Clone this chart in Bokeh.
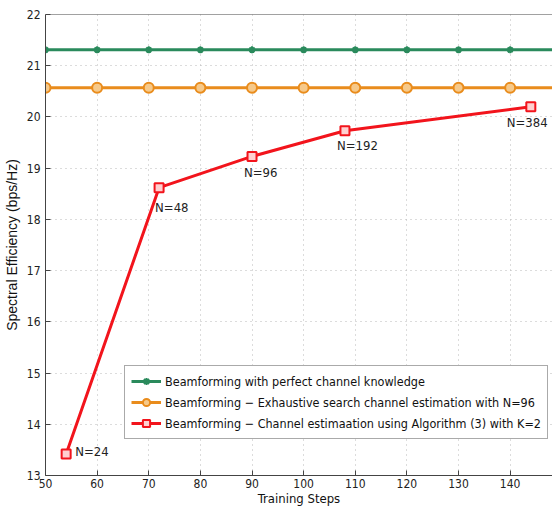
from bokeh.plotting import figure
from bokeh.models import Legend, LegendItem, Range1d, FixedTicker, ColumnDataSource, Span
from bokeh.embed import file_html
from bokeh.resources import INLINE
from bokeh.core.properties import value

# ---- data ----
perfect_x = [50, 60, 70, 80, 90, 100, 110, 120, 130, 140, 150]
perfect_y = [21.31] * 11
exhaustive_x = [50, 60, 70, 80, 90, 100, 110, 120, 130, 140, 150]
exhaustive_y = [20.57] * 11
algo_x = [54, 72, 90, 108, 144]
algo_y = [13.42, 18.62, 19.23, 19.73, 20.2]
algo_labels = ["N=24", "N=48", "N=96", "N=192", "N=384"]
x_ticks = [50, 60, 70, 80, 90, 100, 110, 120, 130, 140, 150]
y_ticks = [13, 14, 15, 16, 17, 18, 19, 20, 21, 22]
x_title = "Training Steps"
y_title = "Spectral Efficiency (bps/Hz)"
legend_labels = [
    "Beamforming with perfect channel knowledge",
    "Beamforming \u2212 Exhaustive search channel estimation with N=96",
    "Beamforming \u2212 Channel estimaation using Algorithm (3) with K=2",
]

FONT = "DejaVu Sans Condensed"
GREEN = "#2a8a5c"
ORANGE = "#e98c1c"
RED = "#f2141c"
AXC = "#444444"

p = figure(width=552, height=509, output_backend="svg", toolbar_location=None,
           x_range=Range1d(50, 148.2), y_range=Range1d(13, 22),
           min_border_left=36, min_border_right=0, min_border_top=14, min_border_bottom=34)
p.background_fill_color = "white"
p.border_fill_color = "white"
p.outline_line_color = None

for ax in (p.xaxis[0], p.yaxis[0]):
    ax.major_label_text_font = FONT
    ax.major_label_text_font_size = "12px"
    ax.major_label_text_color = "#222222"
    ax.axis_line_color = AXC
    ax.major_tick_line_color = AXC
    ax.major_tick_in = 5
    ax.major_tick_out = 0
    ax.minor_tick_line_color = None
    ax.axis_label_text_font_style = "normal"
    ax.axis_label_text_color = "#111111"

p.xaxis.ticker = FixedTicker(ticks=x_ticks)
p.yaxis.ticker = FixedTicker(ticks=y_ticks)
p.xaxis.major_label_standoff = 3
p.yaxis.major_label_standoff = 5
p.xaxis.axis_label = x_title
p.xaxis.axis_label_standoff = 0
p.xaxis.axis_label_text_font = FONT
p.xaxis.axis_label_text_font_size = "13px"
p.yaxis.axis_label = y_title
p.yaxis.axis_label_standoff = 4
p.yaxis.axis_label_text_font = "Liberation Sans"
p.yaxis.axis_label_text_font_size = "14px"

# top border line of the box (right side lies outside the picture)
p.add_layout(Span(location=22, dimension="width", line_color=AXC, line_width=1))

p.xgrid.ticker = FixedTicker(ticks=x_ticks)
p.ygrid.ticker = FixedTicker(ticks=y_ticks)
for g in (p.xgrid[0], p.ygrid[0]):
    g.grid_line_color = "#b8b8b8"
    g.grid_line_dash = "1 4"
    g.grid_line_width = 1

r1l = p.line(perfect_x, perfect_y, line_color=GREEN, line_width=3)
r1m = p.scatter(perfect_x, perfect_y, marker="asterisk", size=7, line_color=GREEN, line_width=2)
r2l = p.line(exhaustive_x, exhaustive_y, line_color=ORANGE, line_width=3)
r2m = p.scatter(exhaustive_x, exhaustive_y, marker="circle", size=10, line_color=ORANGE,
                fill_color="#f6c98a", line_width=2)
r3l = p.line(algo_x, algo_y, line_color=RED, line_width=3)
r3m = p.scatter(algo_x, algo_y, marker="square", size=9, line_color=RED,
                fill_color="#ffd0d0", line_width=2)

src = ColumnDataSource(dict(x=algo_x, y=algo_y, t=algo_labels,
                            dx=[9, -4, -8, -8, -24], dy=[-2, 20, 16, 15, 16]))
p.text(x="x", y="y", text="t", source=src, x_offset="dx", y_offset="dy",
       text_font=value(FONT), text_font_size="13px", text_color="#222222",
       text_baseline="middle", text_align="left")

legend = Legend(items=[
    LegendItem(label=legend_labels[0], renderers=[r1l, r1m]),
    LegendItem(label=legend_labels[1], renderers=[r2l, r2m]),
    LegendItem(label=legend_labels[2], renderers=[r3l, r3m]),
], location=(79, 36))
legend.label_text_font = FONT
legend.label_text_font_size = "12.5px"
legend.label_text_color = "#111111"
legend.glyph_width = 30
legend.glyph_height = 18
legend.label_height = 18
legend.spacing = 3
legend.padding = 6
legend.margin = 0
legend.label_standoff = 4
legend.border_line_color = "#555555"
legend.border_line_width = 1
legend.background_fill_color = "white"
legend.background_fill_alpha = 1
p.add_layout(legend)

open("out.html", "w").write(file_html(p, INLINE))
